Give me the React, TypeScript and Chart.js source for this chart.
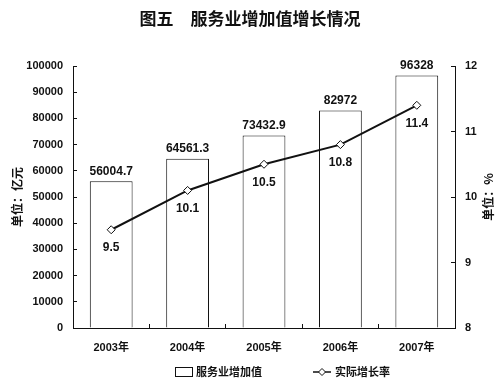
import React, { useEffect, useRef } from "react";
import { Chart, registerables } from "chart.js";

Chart.register(...registerables);

const years = ["2003年", "2004年", "2005年", "2006年", "2007年"];
const valueAdded = [56004.7, 64561.3, 73432.9, 82972, 96328];
const valueAddedLabels = ["56004.7", "64561.3", "73432.9", "82972", "96328"];
const growthRate = [9.5, 10.1, 10.5, 10.8, 11.4];
const growthLabels = ["9.5", "10.1", "10.5", "10.8", "11.4"];
const titleText = "图五　服务业增加值增长情况";
const leftAxisTitle = "单位：亿元";
const rightAxisTitle = "单位：%";
const legendBar = "服务业增加值";
const legendLine = "实际增长率";

const NUM_FONT = '"Liberation Sans", "Noto Sans CJK SC", sans-serif';
const CJK_FONT = '"Noto Sans CJK SC", "Liberation Sans", sans-serif';
const INK = "#111";

const decorPlugin = {
  id: "decor",
  afterDatasetsDraw(chart: any) {
    const ctx = chart.ctx;
    ctx.save();
    ctx.fillStyle = INK;
    ctx.font = `bold 12px ${NUM_FONT}`;
    ctx.textAlign = "center";
    const barMeta = chart.getDatasetMeta(0);
    barMeta.data.forEach((el: any, i: number) => {
      ctx.textBaseline = "bottom";
      ctx.fillText(valueAddedLabels[i], el.x, el.y - 4);
    });
    const lineMeta = chart.getDatasetMeta(1);
    lineMeta.data.forEach((el: any, i: number) => {
      ctx.textBaseline = "middle";
      ctx.fillText(growthLabels[i], el.x, el.y + 18);
    });
    ctx.restore();
  },
  afterDraw(chart: any) {
    const ctx = chart.ctx;
    const area = chart.chartArea;
    const midY = (area.top + area.bottom) / 2;
    ctx.save();
    ctx.fillStyle = INK;
    ctx.strokeStyle = INK;
    ctx.font = `bold 12px ${CJK_FONT}`;
    ctx.textAlign = "center";
    ctx.textBaseline = "middle";
    ctx.save();
    ctx.translate(17, midY);
    ctx.rotate(-Math.PI / 2);
    ctx.fillText(leftAxisTitle, 0, 0);
    ctx.restore();
    ctx.save();
    ctx.translate(488, midY);
    ctx.rotate(-Math.PI / 2);
    ctx.fillText(rightAxisTitle, 0, 0);
    ctx.restore();
    const ly = 372;
    ctx.lineWidth = 1;
    ctx.strokeRect(175.5, ly - 4.5, 17, 9);
    ctx.font = `bold 11px ${CJK_FONT}`;
    ctx.textAlign = "left";
    ctx.fillText(legendBar, 196, ly);
    ctx.lineWidth = 1.5;
    ctx.beginPath();
    ctx.moveTo(313, ly);
    ctx.lineTo(331, ly);
    ctx.stroke();
    ctx.beginPath();
    ctx.moveTo(322, ly - 3.5);
    ctx.lineTo(325.5, ly);
    ctx.lineTo(322, ly + 3.5);
    ctx.lineTo(318.5, ly);
    ctx.closePath();
    ctx.fillStyle = "#fff";
    ctx.fill();
    ctx.lineWidth = 1;
    ctx.stroke();
    ctx.fillStyle = INK;
    ctx.fillText(legendLine, 335, ly);
    ctx.restore();
  },
};

export default function App() {
  const canvasRef = useRef<HTMLCanvasElement | null>(null);

  useEffect(() => {
    if (!canvasRef.current) return;
    const tickFont = { family: NUM_FONT, size: 11, weight: "bold" as const };
    const plain = (v: any) => String(v);
    const chart = new Chart(canvasRef.current, {
      type: "bar",
      data: {
        labels: years,
        datasets: [
          {
            type: "bar",
            label: legendBar,
            data: valueAdded,
            backgroundColor: "#fff",
            borderColor: INK,
            borderWidth: 1,
            categoryPercentage: 1,
            barPercentage: 0.56,
            yAxisID: "y",
            order: 1,
          },
          {
            type: "line",
            label: legendLine,
            data: growthRate,
            borderColor: INK,
            borderWidth: 2,
            pointStyle: "rectRot",
            pointRadius: 4,
            pointBackgroundColor: "#fff",
            pointBorderColor: INK,
            pointBorderWidth: 1,
            tension: 0,
            yAxisID: "y1",
            order: 0,
          } as any,
        ],
      },
      options: {
        animation: false,
        responsive: true,
        maintainAspectRatio: false,
        layout: { padding: 0 },
        plugins: {
          legend: { display: false },
          tooltip: { enabled: false },
          title: {
            display: true,
            text: titleText,
            color: INK,
            font: { family: CJK_FONT, size: 17, weight: "bold" },
            padding: { top: 8, bottom: 37.6 },
          },
        },
        scales: {
          x: {
            type: "category",
            offset: true,
            grid: {
              display: true,
              drawOnChartArea: false,
              drawTicks: true,
              tickLength: -4,
              offset: true,
              color: INK,
            },
            border: { display: true, color: INK, width: 1 },
            ticks: { font: tickFont, color: INK, padding: 17 },
            afterFit: (s: any) => {
              s.height = 58;
            },
          },
          y: {
            position: "left",
            min: 0,
            max: 100000,
            grid: {
              display: true,
              drawOnChartArea: false,
              drawTicks: true,
              tickLength: -4,
              color: INK,
            },
            border: { display: true, color: INK, width: 1 },
            ticks: { stepSize: 10000, font: tickFont, color: INK, padding: 14, callback: plain },
            afterFit: (s: any) => {
              s.width = 73;
            },
          },
          y1: {
            position: "right",
            min: 8,
            max: 12,
            grid: {
              display: true,
              drawOnChartArea: false,
              drawTicks: true,
              tickLength: -4,
              color: INK,
            },
            border: { display: true, color: INK, width: 1 },
            ticks: { stepSize: 1, font: tickFont, color: INK, padding: 14, callback: plain },
            afterFit: (s: any) => {
              s.width = 45;
            },
          },
        },
      },
      plugins: [decorPlugin],
    });
    return () => chart.destroy();
  }, []);

  return (
    <div style={{ position: "absolute", left: 0, top: 0, width: 500, height: 386, background: "#fff" }}>
      <canvas ref={canvasRef} />
    </div>
  );
}
